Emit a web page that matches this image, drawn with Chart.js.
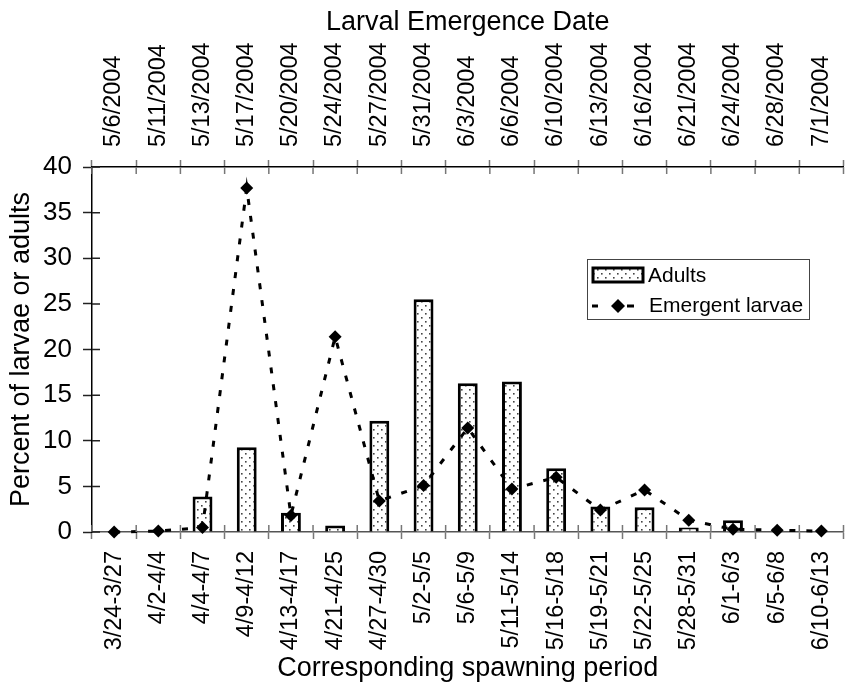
<!DOCTYPE html>
<html>
<head>
<meta charset="utf-8">
<script src="https://cdn.jsdelivr.net/npm/chart.js@4/dist/chart.umd.min.js"></script>
<style>
  html, body { margin:0; padding:0; overflow:hidden; background:#fff; }
</style>
</head>
<body>
<canvas id="chart" width="850" height="685"></canvas>
<script>
// ── data ────────────────────────────────────────────────────────────────────
const spawnPeriods = ["3/24-3/27","4/2-4/4","4/4-4/7","4/9-4/12","4/13-4/17","4/21-4/25",
  "4/27-4/30","5/2-5/5","5/6-5/9","5/11-5/14","5/16-5/18","5/19-5/21","5/22-5/25",
  "5/28-5/31","6/1-6/3","6/5-6/8","6/10-6/13"];
const emergeDates = ["5/6/2004","5/11/2004","5/13/2004","5/17/2004","5/20/2004","5/24/2004",
  "5/27/2004","5/31/2004","6/3/2004","6/6/2004","6/10/2004","6/13/2004","6/16/2004",
  "6/21/2004","6/24/2004","6/28/2004","7/1/2004"];
const adults = [0, 0, 3.9, 9.3, 2.1, 0.7, 12.2, 25.5, 16.3, 16.5, 7.0, 2.8, 2.7, 0.5, 1.3, 0, 0];
const larvae = [0, 0.1, 0.5, 37.7, 1.8, 21.4, 3.4, 5.1, 11.4, 4.7, 6.0, 2.4, 4.6, 1.3, 0.3, 0.2, 0.1];
const yMin = 0, yMax = 40, yStep = 5;

const FONT = "'Liberation Sans', Arial, sans-serif";
Chart.defaults.font.family = FONT;
Chart.defaults.color = "#000";

// dotted fill like the old spreadsheet pattern
function dots(){
  const p = document.createElement("canvas");
  p.width = 8; p.height = 8;
  const g = p.getContext("2d");
  g.fillStyle = "#fff"; g.fillRect(0, 0, 8, 8);
  g.fillStyle = "#444";
  g.fillRect(1, 1, 1.6, 1.6);
  g.fillRect(5, 5, 1.6, 1.6);
  return g.createPattern(p, "repeat");
}
const pattern = dots();

// ticks in the reference cross the axis line; Chart.js only draws the outer half
const innerTicks = {
  id: "innerTicks",
  afterDraw(chart){
    const { ctx, scales:{ x, x2, y } } = chart;
    const n = spawnPeriods.length;
    ctx.save();
    ctx.lineWidth = 1.5;
    ctx.strokeStyle = "#777";
    ctx.beginPath();
    for (let i = 0; i <= n; i++){
      const px = x.getPixelForValue(i - 0.5);
      ctx.moveTo(px, x.top); ctx.lineTo(px, x.top - 7);
      const qx = x2.getPixelForValue(i - 0.5);
      ctx.moveTo(qx, x2.bottom); ctx.lineTo(qx, x2.bottom + 7);
    }
    ctx.stroke();
    ctx.strokeStyle = "#222";
    ctx.beginPath();
    for (let v = yMin; v <= yMax; v += yStep){
      const py = y.getPixelForValue(v);
      ctx.moveTo(y.right, py); ctx.lineTo(y.right + 8, py);
    }
    ctx.stroke();
    ctx.restore();
  }
};

// legend box sitting inside the plot
const boxLegend = {
  id: "boxLegend",
  afterDraw(chart){
    const ctx = chart.ctx;
    const L = 587, T = 259, W = 222, H = 60;
    ctx.save();
    ctx.fillStyle = "#fff";
    ctx.fillRect(L, T, W, H);
    ctx.strokeStyle = "#444"; ctx.lineWidth = 1;
    ctx.strokeRect(L + 0.5, T + 0.5, W, H);

    ctx.fillStyle = pattern;
    ctx.fillRect(593, 268, 50, 14);
    ctx.strokeStyle = "#000"; ctx.lineWidth = 3;
    ctx.strokeRect(593, 268, 50, 14);

    ctx.lineWidth = 3;
    ctx.beginPath();
    ctx.moveTo(592, 306); ctx.lineTo(598, 306);
    ctx.moveTo(627, 306); ctx.lineTo(634, 306);
    ctx.stroke();
    ctx.fillStyle = "#000";
    ctx.beginPath();
    ctx.moveTo(618, 299); ctx.lineTo(625, 306); ctx.lineTo(618, 313); ctx.lineTo(611, 306);
    ctx.closePath(); ctx.fill();

    ctx.font = "21px " + FONT;
    ctx.textBaseline = "middle";
    ctx.fillText("Adults", 648, 276);
    ctx.fillText("Emergent larvae", 649, 306);
    ctx.restore();
  }
};

new Chart(document.getElementById("chart"), {
  type: "bar",
  data: {
    labels: spawnPeriods,
    datasets: [
      {
        type: "line", label: "Emergent larvae", data: larvae, order: 0,
        xAxisID: "x", yAxisID: "y",
        borderColor: "#000", borderWidth: 3, borderDash: [6, 11],
        pointStyle: "rectRot", pointRadius: 6.5, pointBackgroundColor: "#000",
        pointBorderWidth: 0, tension: 0, fill: false, clip: false,
      },
      {
        type: "bar", label: "Adults", data: adults, order: 1,
        xAxisID: "x", yAxisID: "y",
        backgroundColor: pattern, borderColor: "#000", borderWidth: 3,
        barPercentage: 0.45, categoryPercentage: 1,
      },
    ],
  },
  options: {
    responsive: false, animation: false,
    layout: { padding: 0 },
    plugins: { legend: { display: false }, tooltip: { enabled: false } },
    scales: {
      x: {
        position: "bottom", offset: true,
        grid: { offset: true, drawOnChartArea: false, tickLength: 7, tickColor: "#777", tickWidth: 1.5 },
        border: { color: "#555", width: 1.5 },
        ticks: { font: { size: 23.5 }, maxRotation: 90, minRotation: 90, padding: 12, autoSkip: false },
        title: { display: true, text: "Corresponding spawning period", font: { size: 27 }, padding: { top: 0, bottom: 0 } },
        afterFit(s){ s.height = 153; s.paddingLeft = 0; s.paddingRight = 0; },
      },
      x2: {
        type: "category", labels: emergeDates, position: "top", offset: true,
        grid: { offset: true, drawOnChartArea: false, tickLength: 7, tickColor: "#777", tickWidth: 1.5 },
        border: { color: "#000", width: 1.5 },
        ticks: { font: { size: 23.5 }, maxRotation: 90, minRotation: 90, padding: 13, autoSkip: false, labelOffset: 28 },
        title: { display: true, text: "Larval Emergence Date", font: { size: 27 }, padding: { top: 6, bottom: 0 } },
        afterFit(s){ s.height = 167; s.paddingLeft = 0; s.paddingRight = 0; },
      },
      y: {
        position: "left", min: yMin, max: yMax,
        grid: { drawOnChartArea: false, tickLength: 9, tickColor: "#222", tickWidth: 1.5 },
        border: { color: "#000", width: 1.5 },
        ticks: { stepSize: yStep, font: { size: 26 }, padding: 11 },
        title: { display: true, text: "Percent of larvae or adults", font: { size: 27 }, padding: { top: 5, bottom: 0 } },
        afterFit(s){ s.width = 92; s.paddingTop = 0; s.paddingBottom = 0; },
      },
    },
  },
  plugins: [innerTicks, boxLegend],
});
</script>
</body>
</html>
